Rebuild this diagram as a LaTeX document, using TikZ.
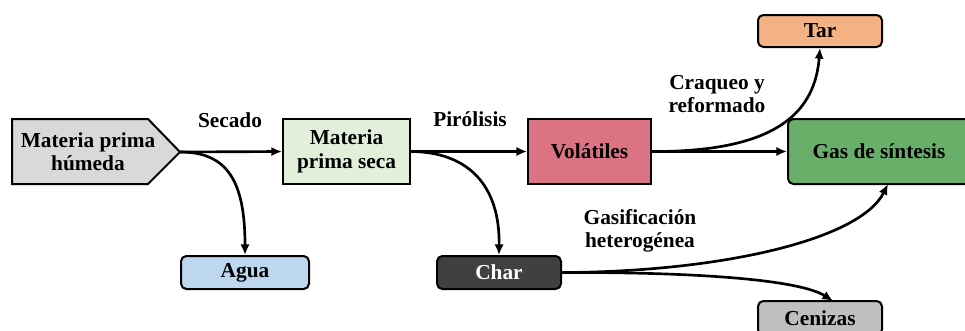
\documentclass[tikz,border=0pt]{standalone}
\usepackage{fontspec}
\setmainfont{Liberation Serif}
\usetikzlibrary{arrows.meta}
\definecolor{cgrey}{HTML}{D9D9D9}
\definecolor{cseca}{HTML}{E2EFDA}
\definecolor{cagua}{HTML}{BDD7EE}
\definecolor{cvol}{HTML}{DB7382}
\definecolor{ctar}{HTML}{F4B183}
\definecolor{cgas}{HTML}{6AAF69}
\definecolor{cchar}{HTML}{404040}
\definecolor{ceniz}{HTML}{BFBFBF}
\tikzset{
  txt/.style={font=\fontsize{16}{17.5}\selectfont\bfseries, align=center, inner sep=0pt},
  box/.style={txt, draw=black, line width=1.5pt},
  rbox/.style={box, rounded corners=4pt},
  arr/.style={line width=2pt, -{Latex[length=8pt,width=7pt]}},
}
\begin{document}
\begin{tikzpicture}[x=0.75pt,y=-0.75pt]
\useasboundingbox (0,0) rectangle (965,330);
% pentagon
\draw[fill=cgrey, line width=1.5pt] (12,119) -- (148,119) -- (180,152) -- (148,184) -- (12,184) -- cycle;
\node[txt] (hum) at (88,152) {Materia prima\\húmeda};
\coordinate (humtip) at (180,152);
\node[box, fill=cseca, minimum width=127*0.75pt, minimum height=65*0.75pt] (seca) at (346.5,151.5) {Materia\\prima seca};
\node[rbox, fill=cagua, minimum width=128*0.75pt, minimum height=33*0.75pt] (agua) at (245,272.5) {Agua};
\node[box, fill=cvol, minimum width=123*0.75pt, minimum height=65*0.75pt] (vol) at (589.5,151.5) {Volátiles};
\node[rbox, fill=ctar, minimum width=124*0.75pt, minimum height=32*0.75pt] (tar) at (820,31) {Tar};
\node[rbox, fill=cgas, minimum width=182*0.75pt, minimum height=65*0.75pt] (gas) at (879,151.5) {Gas de síntesis};
\node[rbox, fill=cchar, text=white, minimum width=124*0.75pt, minimum height=33*0.75pt] (char) at (499,272.5) {Char};
\node[rbox, fill=ceniz, minimum width=124*0.75pt, minimum height=34*0.75pt] (ceniz) at (820,318) {Cenizas};
% labels
\node[txt] (lsec) at (230,120) {Secado};
\node[txt] (lpir) at (470,119) {Pirólisis};
\node[txt] (lcra) at (717,94) {Craqueo y\\reformado};
\node[txt] (lgas) at (640,231) {Gasificación\\heterogénea};
% arrows
\draw[arr] (humtip) -- (seca.west);
\draw[arr] (humtip) .. controls (228,152) and (245,182) .. (agua.north);
\draw[arr] (seca.east) -- (vol.west);
\draw[arr] (seca.east) .. controls (468,152) and (500,185) .. (char.north);
\draw[arr] (vol.east) -- (gas.west);
\draw[arr] (vol.east) .. controls (780,152) and (815,110) .. (tar.south);
\draw[arr] (char.east) .. controls (720,272) and (860,240) .. (888,184);
\draw[arr] (char.east) .. controls (700,272) and (800,280) .. (833,301);
\end{tikzpicture}
\end{document}
